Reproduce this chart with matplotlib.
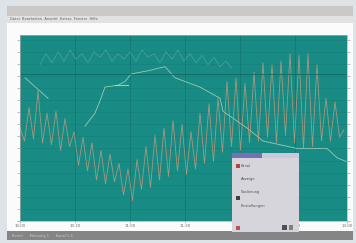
import numpy as np
import matplotlib
matplotlib.use('Agg')
import matplotlib.pyplot as plt
from matplotlib.patches import Rectangle

W, H = 356, 243

# orange series, sampled every 4.5 px across the plot (0..100 scale)
orange = [50, 43, 61, 44, 70, 42, 58, 41, 59, 38, 55, 40,
          48, 30, 45, 27, 42, 22, 38, 20, 36, 21, 31, 14,
          28, 11, 33, 17, 40, 18, 46, 22, 50, 24, 54, 27,
          52, 25, 48, 28, 58, 31, 63, 32, 66, 37, 75, 40,
          77, 38, 74, 42, 80, 43, 85, 45, 84, 42, 86, 46,
          90, 42, 89, 39, 90, 40, 84, 43, 66, 43, 64, 45, 49]

# pale green series (x in plot px, value)
green_x = [5, 28, np.nan, 65, 75, 81, 85, 98, 105, 111, 130, 145, 155,
           160, 180, 200, 203, 227, 243, 260, 277, 307, 317, 326]
green_y = [77, 66, np.nan, 51, 58, 66, 72, 73, 75, 79, 81, 83, 77,
           76, 72, 66, 59, 50, 43, 41, 39, 39, 34, 32]

# faint blue series along the top
blue_x = [20, 26, 32, 38, 44, 50, 56, 62, 68, 74, 80, 86, 92, 98, 104,
          110, 116, 122, 128, 134, 140, 146, 152, 158, 164, 170, 176,
          182, 188, 194, 200, 206, 212]
blue_y = [84, 90, 85, 91, 86, 92, 87, 90, 85, 91, 88, 92, 86, 90, 87,
          91, 86, 92, 88, 90, 85, 91, 87, 92, 86, 90, 85, 89, 84, 88, 83, 86, 82]

xtick_pos = [0, 55, 110, 165, 220, 275, 327]
xtick_lab = ['10:00', '10:30', '11:00', '11:30', '12:00', '12:30', '13:00']

teal = '#188b84'


def box(x0, y0, x1, y1):
    # pixel box (top-left origin) -> figure fraction rect
    return (x0 / W, 1 - y1 / H), (x1 - x0) / W, (y1 - y0) / H


def rect(fig, x0, y0, x1, y1, color, z=-1, **kw):
    xy, w, h = box(x0, y0, x1, y1)
    fig.add_artist(Rectangle(xy, w, h, transform=fig.transFigure,
                             facecolor=color, edgecolor='none', zorder=z, **kw))


fig = plt.figure(figsize=(W / 100, H / 100), dpi=100, facecolor='#dde3e6')

# window chrome
rect(fig, 7, 6, 353, 240, '#fbfbfb')
rect(fig, 7, 6, 353, 16, '#cbc8c8')
rect(fig, 7, 16, 353, 23, '#e4e2e0')
rect(fig, 7, 231, 353, 240, '#858588')
fig.text(10 / W, 1 - 19.5 / H, 'Datei  Bearbeiten  Ansicht  Extras  Fenster  Hilfe',
         fontsize=2.6, color='#606060', va='center')
fig.text(12 / W, 1 - 235.5 / H, 'Bereit      Messung 1      Kanal 1-3', fontsize=2.6,
         color='#c8c8c8', va='center')

ax = fig.add_axes([20 / W, 1 - 221 / H, 327 / W, 186 / H])
ax.set_facecolor(teal)
ax.set_xlim(0, 327)
ax.set_ylim(0, 100)

ox = [i * 4.5 for i in range(len(orange))]
ax.plot(blue_x, blue_y, color='#86c0d4', lw=0.5, alpha=0.45)
ax.plot(green_x, green_y, color='#bfe2c4', lw=0.6, alpha=0.75)
ax.plot([95, 108], [73, 73], color='#d0e07a', lw=0.8, alpha=0.8)
ax.plot(ox, orange, color='#c99c7c', lw=0.6, alpha=0.8)

ax.set_yticks(np.arange(0, 101, 6.5))
ax.set_xticks(xtick_pos)
ax.set_xticklabels(xtick_lab, fontsize=2.8, color='#707070')
ax.set_yticklabels([])
ax.tick_params(axis='y', length=2.5, width=0.5, color='#a0a0a0', right=True)
ax.tick_params(axis='x', length=1.5, width=0.5, color='#a0a0a0', pad=1)
ax.grid(True, axis='y', color='#168079', lw=0.4)
ax.grid(True, axis='x', color='#117470', lw=0.5)
ax.axhline(79, color='#0f6862', lw=0.6)
for s in ax.spines.values():
    s.set_color('#b0b0b0')
    s.set_linewidth(0.5)

# dialog box over the plot
rect(fig, 232, 153, 299, 232, '#d6d5dc', z=5)
rect(fig, 232, 153, 299, 158, '#7870b4', z=6)
rect(fig, 262, 153, 299, 158, '#cac8dc', z=6)
for yy, txt in [(166, 'Kanal'), (179, 'Anzeige'), (192, 'Skalierung'), (206, 'Einstellungen')]:
    fig.text(241 / W, 1 - yy / H, txt, fontsize=2.6, color='#505050', va='center', zorder=7)
rect(fig, 236, 164, 240, 168, '#b84040', z=7)
rect(fig, 236, 196, 240, 200, '#404040', z=7)
rect(fig, 236, 226, 240, 230, '#c05050', z=7)
rect(fig, 282, 225, 287, 230, '#505050', z=7)
rect(fig, 289, 225, 293, 230, '#808080', z=7)

fig.savefig('out.png', dpi=100, facecolor=fig.get_facecolor())
